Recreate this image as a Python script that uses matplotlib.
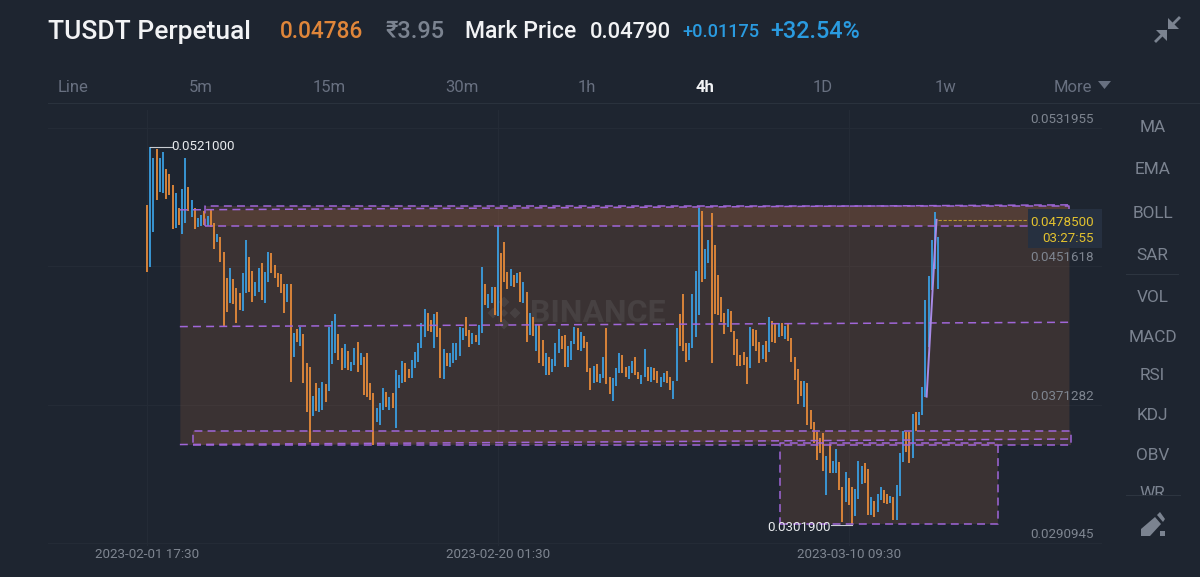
import numpy as np
import matplotlib
matplotlib.use("Agg")
import matplotlib.pyplot as plt
from matplotlib.patches import Polygon, Rectangle

# ---- data (prices in units of 0.0001) ----
highs = [487.3,521.0,514.6,519.8,514.6,518.1,508.2,505.3,498.9,494.3,
485.6,496.6,514.6,497.8,490.2,485.6,479.8,481.5,483.8,480.9,
484.4,476.9,470.4,468.7,460.0,444.9,450.7,444.3,439.1,436.2,
447.8,467.0,457.1,448.9,442.6,450.7,453.6,448.4,460.0,459.4,
452.4,447.8,447.2,441.4,441.4,441.4,412.9,415.3,416.4,412.3,
395.5,393.2,376.3,383.9,381.0,384.5,383.3,416.4,419.9,424.0,
412.3,404.2,406.5,402.5,396.1,404.2,407.7,401.3,399.0,401.3,
383.9,378.1,369.4,372.3,381.0,378.7,375.7,378.1,391.4,388.5,
396.7,395.5,392.0,397.2,401.9,407.1,418.8,426.9,424.6,420.5,
424.0,425.1,415.8,403.6,401.3,401.3,407.1,407.1,416.4,415.8,
422.2,414.7,412.9,411.8,417.6,451.3,441.4,435.6,439.7,439.7,
475.1,459.4,465.8,448.4,450.1,446.6,447.8,448.4,442.6,436.8,
424.6,422.2,417.6,417.6,408.9,401.3,399.0,397.8,407.1,415.3,
411.2,411.8,405.4,408.3,416.4,415.8,413.5,411.2,407.7,392.6,
393.8,394.9,389.1,399.0,415.8,387.4,386.8,392.6,401.3,400.2,
393.2,393.8,396.7,399.0,390.3,388.5,403.6,393.2,393.2,392.6,
390.9,387.4,389.7,390.9,387.4,385.0,415.8,424.0,435.6,407.1,
407.1,435.6,448.9,485.6,483.8,461.7,467.0,482.6,464.0,446.6,
433.8,424.6,426.9,425.7,414.1,409.5,400.2,401.9,399.0,416.4,
415.3,414.7,407.7,405.9,408.3,422.2,419.9,418.8,418.8,418.8,
417.0,418.8,410.0,399.0,392.0,385.0,385.0,383.9,368.2,361.2,
355.4,351.9,354.8,341.5,348.4,338.6,345.6,338.0,323.5,332.2,
328.7,323.5,322.3,338.6,335.7,337.4,333.9,317.6,315.3,319.4,
323.5,321.7,319.4,318.2,317.6,324.6,343.2,356.0,355.4,355.4,
365.9,367.0,367.0,381.6,432.1,446.0,467.0,483.2,468.7]
lows = [448.4,451.3,471.6,490.2,494.9,494.3,490.8,493.1,473.3,473.9,
475.7,470.4,476.9,483.8,480.3,473.3,474.5,475.1,475.7,475.1,
474.5,461.7,465.8,454.2,416.4,425.1,430.4,429.8,418.8,426.3,
425.7,436.2,436.8,430.9,434.4,436.8,432.1,430.4,442.6,447.8,
444.9,439.7,436.2,424.6,430.9,384.5,399.0,407.7,405.4,383.9,
367.0,349.6,364.7,367.6,367.0,368.2,372.8,379.2,394.9,401.3,
397.2,391.4,392.6,391.4,390.9,394.3,390.3,394.3,376.9,375.7,
374.0,347.9,361.2,359.5,368.2,369.9,368.2,369.4,357.7,381.0,
383.9,384.5,386.8,386.8,392.6,396.1,404.2,410.6,414.1,413.5,
404.2,410.6,386.8,386.2,393.8,393.2,395.5,397.2,399.6,408.9,
411.2,404.8,406.5,407.7,405.9,412.9,429.2,427.5,430.4,423.4,
422.8,419.3,442.6,438.5,440.2,439.7,442.0,430.9,430.4,407.7,
411.8,411.2,402.5,395.5,393.8,388.5,388.5,390.3,393.8,401.3,
403.6,393.2,393.2,397.2,406.5,403.1,402.5,404.2,390.3,379.8,
383.9,384.5,383.9,386.8,383.3,377.5,373.4,382.1,389.7,389.7,
387.4,386.2,389.7,388.5,386.2,383.3,387.4,385.0,384.5,385.6,
383.9,381.6,384.5,383.9,379.8,374.6,385.0,405.4,402.5,396.1,
397.2,404.2,410.6,423.4,442.6,444.3,453.6,395.5,424.0,423.4,
419.3,412.3,416.4,413.5,400.2,393.8,393.8,394.3,383.3,392.6,
405.4,402.5,395.5,397.8,396.1,401.9,407.7,407.1,410.6,411.2,
409.5,408.3,396.1,385.6,371.7,376.3,369.9,359.5,357.2,349.0,
339.1,343.2,332.8,318.8,331.6,331.6,331.6,321.7,303.1,314.8,
313.0,301.9,306.6,316.5,325.2,325.8,307.2,307.2,306.0,308.9,
315.9,314.2,313.6,314.2,304.3,304.3,318.2,338.0,343.8,337.4,
340.3,356.0,359.5,365.3,375.7,404.8,437.9,449.9,438.5]
# b = blue bar, o = orange bar, ten bars per string
direction = "".join([
 "obbobbooob", "obbobobbob", "oobooobooo", "bboobbobbo", "oooobobobo",
 "oobobbobbb", "oobobboboo", "oobbbobobb", "boobbbbboo", "boobobbbbb",
 "oobobbobbo", "booobobobo", "boboobobbb", "oobbbobooo", "bobboobbbo",
 "obboobbobo", "obboobbooo", "bbbbobbooo", "ooboooooob", "ooobobooob"[:7] + "obo",
 "booooobooo", "ooobobboob", "oobbboobob", "boobobbboo", "bobbbbbbb"])
time_labels = ["2023-02-01 17:30", "2023-02-20 01:30", "2023-03-10 09:30"]
time_ticks = [0, 110, 220]
price_ticks = [0.0531955, 0.0451618, 0.0371282, 0.0290945]
last_price = 0.04785
max_price, min_price = 0.0521, 0.03019
channel_x = [10.3, 289.0]
channel_top = [484.4, 487.3]
channel_mid = [416.6, 419.1]
channel_bot = [348.1, 351.3]
band_top = (18.2, 289.0, 474.9, 486.8)
band_bot = (14.4, 289.7, 347.9, 356.2)
box_low = (198.4, 266.7, 301.8, 349.0)
trend_x, trend_y = [244.4, 247.5], [375.9, 478.6]
side_items = ["MA", "EMA", "BOLL", "SAR", "VOL", "MACD", "RSI", "KDJ", "OBV", "WR"]
tab_items = ["Line", "5m", "15m", "30m", "1h", "4h", "1D", "1w", "More"]

BG = "#1e2530"; BLUE = "#3a9ee0"; ORANGE = "#e58a3a"; PURPLE = "#a066d8"
GREY = "#7b8390"; FILL = "#e0804a"
FONT = ["Roboto", "DejaVu Sans"]
plt.rcParams["font.family"] = FONT

W, H = 1200, 577
fig = plt.figure(figsize=(W/100, H/100), dpi=100, facecolor=BG)
x0, x1, ytop, ybot = 48, 1102, 110, 545.6
ax = fig.add_axes([x0/W, 1-ybot/H, (x1-x0)/W, (ybot-ytop)/H], facecolor=BG)
ax.set_xlim((x0-147)/3.19, (x1-147)/3.19)
ax.set_ylim(0.02894, 0.05424)
for s in ax.spines.values():
    s.set_visible(False)
ax.tick_params(length=0, labelleft=False, labelbottom=False)
ax.set_xticks(time_ticks); ax.set_yticks(price_ticks)
ax.grid(True, color="#252c37", lw=0.7); ax.set_axisbelow(True)

e = 1e-4
# filled drawings
cx = np.array(channel_x)
ax.fill_between(cx, np.array(channel_bot)*e, np.array(channel_top)*e, color=FILL, alpha=0.15, lw=0, zorder=1)
for (a, b, lo_, hi_) in (band_top, band_bot, box_low):
    ax.add_patch(Rectangle((a, lo_*e), b-a, (hi_-lo_)*e, facecolor=FILL, alpha=0.15, lw=0, zorder=1))

# bars
idx = np.arange(len(highs))
up = np.array([c == "b" for c in direction[:len(highs)]])
hi, lo = np.array(highs)*e, np.array(lows)*e
ax.vlines(idx[~up], lo[~up], hi[~up], color=ORANGE, lw=1.3, zorder=3)
ax.vlines(idx[up], lo[up], hi[up], color=BLUE, lw=1.3, zorder=3)

# dashed drawings
dash = dict(color=PURPLE, lw=1.1, ls=(0, (5.2, 3.4)), zorder=4)
for ys in (channel_top, channel_mid, channel_bot):
    ax.plot(cx, np.array(ys)*e, **dash)
for (a, b, l, h) in (band_top, band_bot, box_low):
    ax.plot([a, b, b, a, a], [l*e, l*e, h*e, h*e, l*e], **dash)
ax.plot(trend_x, np.array(trend_y)*e, color="#a88be6", lw=1.4, zorder=5)

# last price
ax.plot([len(highs)-1, (1028-147)/3.19], [last_price]*2, color="#b8962c", lw=0.8, ls=(0, (3, 1.5)), zorder=4)

# UI overlay in pixel coordinates
ui = fig.add_axes([0, 0, 1, 1], facecolor="none")
ui.set_xlim(0, W); ui.set_ylim(H, 0); ui.axis("off")

# watermark sits under the bars
WM = "#474142"
ax.text(597.5, 313, "BINANCE", color=WM, fontsize=23, fontweight="bold", ha="center", va="center",
        zorder=2, transform=ui.transData, clip_on=False)
for cxp, cyp, r in ((504, 302, 5.5), (504, 324, 5.5), (493, 313, 5.5), (515, 313, 5.5), (504, 313, 4)):
    ax.add_patch(Polygon([(cxp-r, cyp), (cxp, cyp-r), (cxp+r, cyp), (cxp, cyp+r)], facecolor=WM, lw=0,
                         zorder=2, transform=ui.transData, clip_on=False))

# extreme labels
def data2ui(i, p):
    return ui.transData.inverted().transform(ax.transData.transform((i, p)))
TS = 9.6
mx = data2ui(1, max_price); mn = data2ui(221, min_price)
ui.plot([mx[0], mx[0]+22], [mx[1]]*2, color="#c8ccd2", lw=0.8)
ui.text(mx[0]+21, mx[1], f"{max_price:.7f}", color="#e8eaed", fontsize=TS, va="center")
ui.plot([mn[0], mn[0]-21], [mn[1]+1]*2, color="#c8ccd2", lw=0.8)
ui.text(mn[0]-21, mn[1]+3, f"{min_price:.7f}", color="#e8eaed", fontsize=TS, va="center", ha="right")

# price axis labels
for p in price_ticks:
    yy = data2ui(0, p)[1]
    ui.text(1094, yy-8.5, f"{p:.7f}", color="#7e8590", fontsize=TS, ha="right", va="center", zorder=6)
# last price tag
ui.add_patch(Rectangle((1028, 209), 74, 39, facecolor="#263040", lw=0, zorder=5))
ui.text(1094, 222, f"{last_price:.7f}", color="#e3c22f", fontsize=TS, ha="right", va="center", zorder=6)
ui.text(1094, 238.5, "03:27:55", color="#e3c22f", fontsize=TS, ha="right", va="center", zorder=6)
# time labels
for t, lab in zip(time_ticks, time_labels):
    ui.text(data2ui(t, 0.03)[0], 554, lab, color="#7e8590", fontsize=TS, ha="center", va="center")

# header
hdr = [("TUSDT Perpetual", 48, "#f2f3f5", 19, 500), ("0.04786", 280, "#e0863a", 16.3, 500),
       ("₹3.95", 385, "#7b8390", 17, 500),
       ("Mark Price", 465, "#f2f3f5", 16.6, 500), ("0.04790", 590, "#f2f3f5", 15.8, 500),
       ("+0.01175", 682, "#2a9be0", 13.1, 500), ("+32.54%", 770, "#2a9be0", 16.8, 500)]
for s, x, c, fs, w in hdr:
    ui.text(x, 32, s, color=c, fontsize=fs, fontweight=w, va="center", ha="left")

# collapse icon
IC = "#7b8390"
ui.add_patch(Polygon([(1168, 18), (1168, 29), (1179, 29)], facecolor=IC, lw=0))
ui.add_patch(Polygon([(1156, 30), (1167, 30), (1167, 41)], facecolor=IC, lw=0))
ui.plot([1171, 1179], [26, 18], color=IC, lw=2); ui.plot([1156, 1164], [41, 33], color=IC, lw=2)

# tabs
tab_x = [73, 201, 329, 462, 587, 705, 823, 945, 1073]
for s, x in zip(tab_items, tab_x):
    act = s == "4h"
    ui.text(x, 87, s, color="#f2f3f5" if act else "#687080", fontsize=12,
            fontweight="bold" if act else "normal", ha="center", va="center")
ui.add_patch(Polygon([(1098, 81), (1111, 81), (1104.5, 89)], facecolor="#687080", lw=0))
ui.plot([48, 1200], [103, 103], color="#2a323d", lw=0.8)

# side menu
side_y = [127, 170, 213, 255, 297, 337, 376, 415, 455, 494]
clip = Rectangle((1120, 100), 70, 395, transform=ui.transData)
for s, y in zip(side_items, side_y):
    t = ui.text(1152.5, y, s, color=GREY, fontsize=12.4, ha="center", va="center")
    t.set_clip_path(clip); t.set_clip_on(True)
ui.plot([1126, 1178], [274, 274], color="#2d3540", lw=0.8)
ui.plot([1126, 1180], [495, 495], color="#2d3540", lw=0.8)
# pen icon
ui.add_patch(Polygon([(1141, 536), (1141, 529), (1155, 517), (1161, 524), (1150, 536)], facecolor=IC, lw=0))
ui.add_patch(Polygon([(1157, 515), (1160, 512), (1165, 519), (1163, 522)], facecolor=IC, lw=0))
ui.add_patch(Rectangle((1160, 531), 5, 5, facecolor=IC, lw=0))

fig.savefig("out.png", dpi=100, facecolor=BG)
